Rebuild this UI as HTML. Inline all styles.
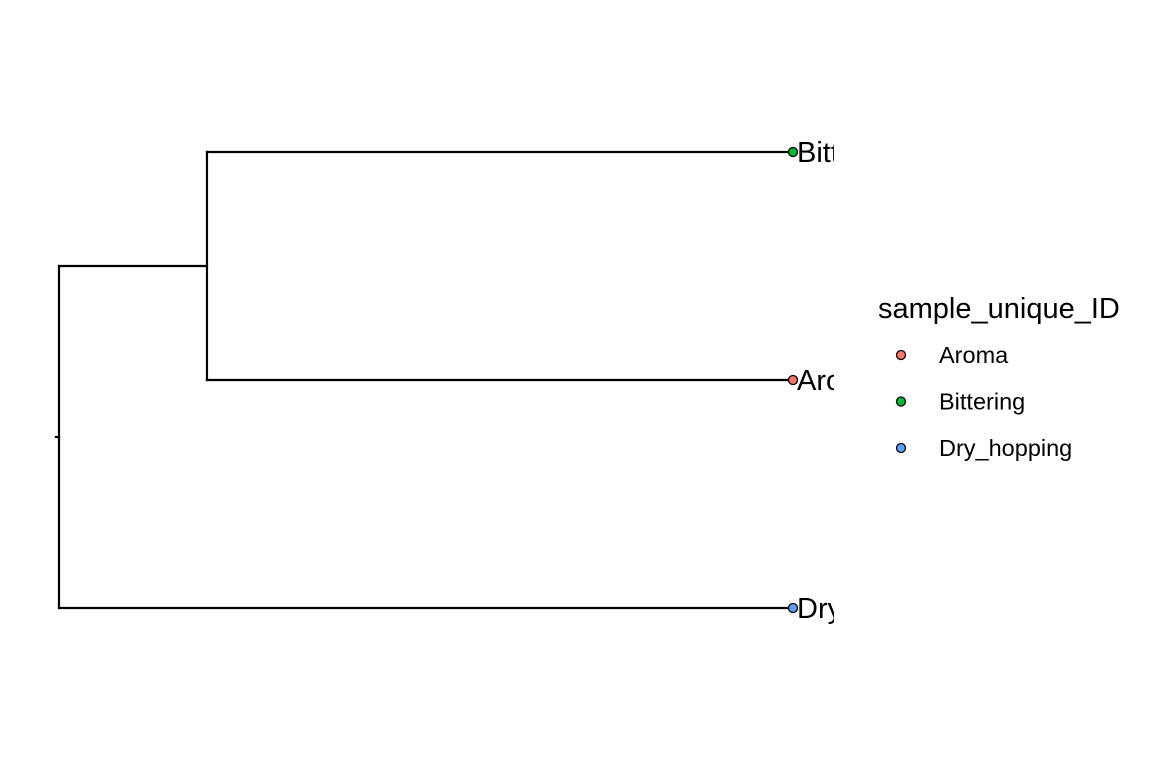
<!DOCTYPE html>
<html><head><meta charset="utf-8"><style>
html,body{margin:0;padding:0;background:#fff;}
svg{display:block;font-family:"Liberation Sans",Arial,sans-serif;}
</style></head><body>
<svg id="chart" width="1152" height="768">
<defs><clipPath id="clip"><rect x="0" y="0" width="834" height="768"/></clipPath></defs>
<rect width="1152" height="768" fill="#fff"/>
<g id="tree" clip-path="url(#clip)"></g>
<g id="legend"></g>
</svg>
<script>
const tipNames = ["Bittering","Aroma","Dry_hopping"];
const tipDepth = [1, 1, 1];
const tipPos = [3, 2, 1];
const innerDepth = [0.2016];
const groups = ["Aroma","Bittering","Dry_hopping"];
const groupColors = ["#F8766D","#00BA38","#619CFF"];

const ns="http://www.w3.org/2000/svg";
const X = d => 59 + d*(793-59);
const Y = p => 608 - (p-1)*228;
const tree=document.getElementById('tree');
function line(x1,y1,x2,y2,name){
  const l=document.createElementNS(ns,'line');
  l.setAttribute('x1',x1);l.setAttribute('y1',y1);l.setAttribute('x2',x2);l.setAttribute('y2',y2);
  l.setAttribute('stroke','#000');l.setAttribute('stroke-width','2.2');l.setAttribute('stroke-linecap','square');
  
  
  tree.appendChild(l);
}
const inY = (Y(tipPos[0])+Y(tipPos[1]))/2;
const rootY = (inY + Y(tipPos[2]))/2;
const inX = X(innerDepth[0]), rootX = X(0);
line(rootX, inY, rootX, Y(tipPos[2]), 'root-vertical-branch');
line(rootX, inY, inX, inY, 'inner-node-branch');
line(rootX, Y(tipPos[2]), X(tipDepth[2]), Y(tipPos[2]), 'dry-hopping-branch');
line(inX, Y(tipPos[0]), inX, Y(tipPos[1]), 'inner-vertical-branch');
line(inX, Y(tipPos[0]), X(tipDepth[0]), Y(tipPos[0]), 'bittering-branch');
line(inX, Y(tipPos[1]), X(tipDepth[1]), Y(tipPos[1]), 'aroma-branch');
line(rootX-3, rootY, rootX, rootY, 'root-stub');
tipNames.forEach((n,i)=>{
  const cx=X(tipDepth[i]), cy=Y(tipPos[i]);
  const c=document.createElementNS(ns,'circle');
  c.setAttribute('cx',cx);c.setAttribute('cy',cy);c.setAttribute('r',4.5);
  c.setAttribute('fill',groupColors[groups.indexOf(n)]);c.setAttribute('stroke','#000');c.setAttribute('stroke-width','1.3');
  
  
  tree.appendChild(c);
  const t=document.createElementNS(ns,'text');
  t.setAttribute('x',cx+4);t.setAttribute('y',cy+10);t.setAttribute('font-size','29');
  t.textContent=n;
  
  
  tree.appendChild(t);
});
const lg=document.getElementById('legend');
const title=document.createElementNS(ns,'text');
title.setAttribute('x',878);title.setAttribute('y',318);title.setAttribute('font-size','29');
title.textContent='sample_unique_ID';


lg.appendChild(title);
groups.forEach((g,i)=>{
  const cy=355+i*46.5;
  const c=document.createElementNS(ns,'circle');
  c.setAttribute('cx',901);c.setAttribute('cy',cy);c.setAttribute('r',4.5);
  c.setAttribute('fill',groupColors[i]);c.setAttribute('stroke','#000');c.setAttribute('stroke-width','1.3');
  
  
  lg.appendChild(c);
  const t=document.createElementNS(ns,'text');
  t.setAttribute('x',939);t.setAttribute('y',cy+8);t.setAttribute('font-size','23.5');
  t.textContent=g;
  
  
  lg.appendChild(t);
});
</script>
</body></html>
